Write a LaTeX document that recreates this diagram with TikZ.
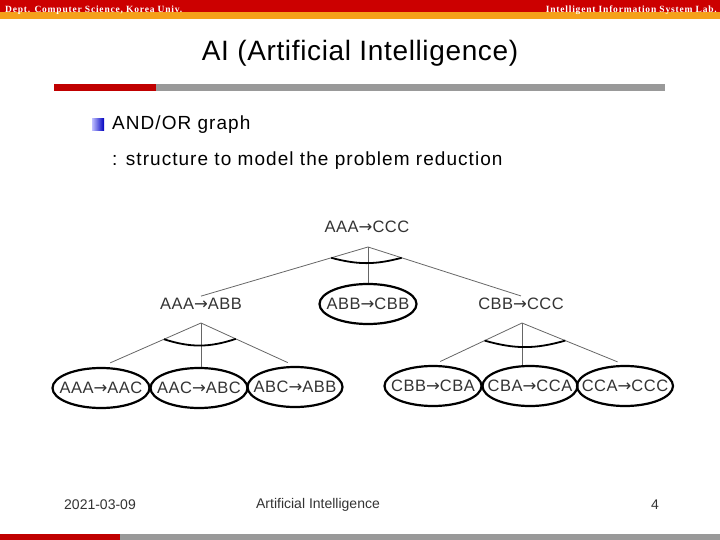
\documentclass[tikz,border=0pt]{standalone}
\usepackage{fontspec}
\setmainfont{Liberation Sans}
\newfontfamily\hdrfont[LetterSpace=8.4]{Liberation Serif}
\newfontfamily\arrfont{DejaVu Sans}
\newfontfamily\widefont[LetterSpace=5.5]{Liberation Sans}
\newfontfamily\titlefont[LetterSpace=2.3]{Liberation Sans}
\newfontfamily\lblfont[LetterSpace=3]{Liberation Sans}
\newcommand\ra{{\arrfont →}}
\usetikzlibrary{calc,shapes.geometric}
\definecolor{hred}{HTML}{CC0000}
\definecolor{horange}{HTML}{F5A01A}
\definecolor{lred}{HTML}{C00000}
\definecolor{lgray}{HTML}{999999}
\definecolor{txt}{HTML}{333333}
\begin{document}
\begin{tikzpicture}[x=1pt,y=-1pt,
  hdr/.style={text=white, font=\hdrfont\bfseries\fontsize{9.5}{10}\selectfont, inner sep=0pt},
  lbl/.style={font=\lblfont\fontsize{16.5}{18}\selectfont, text=txt, inner sep=2pt},
  oval/.style={ellipse, draw=black, line width=2.2pt, minimum width=97pt, minimum height=40pt, inner sep=0pt},
  edge/.style={draw=black!60, line width=0.8pt},
  andarc/.style={draw=black, line width=1.8pt},
  foot/.style={font=\fontsize{14}{16}\selectfont, text=txt}]
\useasboundingbox (0,0) rectangle (720,540);
% header
\fill[hred] (0,0) rectangle (720,12);
\fill[horange] (0,12) rectangle (720,19);
\node[hdr, anchor=west] (hl) at (5,10) {Dept. Computer Science, Korea Univ.};
\node[hdr, anchor=east] (hr) at (717,10) {Intelligent Information System Lab.};
% title
\node[font=\titlefont\fontsize{28}{30}\selectfont, text=black] (title) at (360,53) {AI (Artificial Intelligence)};
\fill[lred] (54,84) rectangle (156,91);
\fill[lgray] (156,84) rectangle (665,91);
% bullet text
\shade[left color=blue!25, right color=blue!75!black] (92,119) rectangle (104,131);
\node[anchor=west, font=\widefont\fontsize{19}{21}\selectfont, text=black, inner sep=0pt] (h1) at (112,125) {AND/OR graph};
\node[anchor=west, font=\widefont\fontsize{19}{21}\selectfont, text=black, inner sep=0pt] (h2) at (112,161) {: structure to model the problem reduction};
% tree level 1-2
\node[lbl] (r) at (367,227) {AAA\ra CCC};
\coordinate (r0) at (368,247);
\node[lbl] (n1) at (201,304) {AAA\ra ABB};
\node[oval] (n2) at (368,304) {};
\node[lbl] (n2t) at (n2) {ABB\ra CBB};
\node[lbl] (n3) at (521,304) {CBB\ra CCC};
\draw[edge] (r0) -- (n1.north);
\draw[edge] (r0) -- (n2.north);
\draw[edge] (r0) -- (n3.north);
\draw[andarc] ($(r0)!0.22!(n1.north)$) to[bend right=15] ($(r0)!0.22!(n3.north)$);
% left subtree
\coordinate (a0) at (201,323);
\node[oval] (c1) at (101,388) {};
\node[oval] (c2) at (199,388) {};
\node[oval, minimum width=95pt] (c3) at (295,387) {};
\node[lbl] (c1t) at (c1) {AAA\ra AAC};
\node[lbl] (c2t) at (c2) {AAC\ra ABC};
\node[lbl] (c3t) at (c3) {ABC\ra ABB};
\draw[edge, shorten >=10pt] (a0) -- (c1.north);
\draw[edge] (a0) -- (a0 |- c2.north);
\draw[edge, shorten >=8pt] (a0) -- (c3.north);
\draw[andarc] ($(a0)!0.37!(c1.north)$) to[bend right=18] ($(a0)!0.37!(c3.north)$);
% right subtree
\coordinate (b0) at (522,323);
\node[oval] (d1) at (433,386) {};
\node[oval, minimum width=95pt] (d2) at (530,386) {};
\node[oval, minimum width=96pt] (d3) at (625,386) {};
\node[lbl] (d1t) at (d1) {CBB\ra CBA};
\node[lbl] (d2t) at (d2) {CBA\ra CCA};
\node[lbl] (d3t) at (d3) {CCA\ra CCC};
\draw[edge, shorten >=8pt] (b0) -- (d1.north);
\draw[edge] (b0) -- (b0 |- d2.north);
\draw[edge, shorten >=8pt] (b0) -- (d3.north);
\draw[andarc] ($(b0)!0.42!(d1.north)$) to[bend right=16] ($(b0)!0.42!(d3.north)$);
% footer
\node[foot] (f1) at (100,505) {2021-03-09};
\node[foot] (f2) at (318,505) {Artificial Intelligence};
\node[foot] (f3) at (655,505) {4};
\fill[lred] (0,534) rectangle (120,540);
\fill[lgray] (120,534) rectangle (720,540);
\end{tikzpicture}
\end{document}
